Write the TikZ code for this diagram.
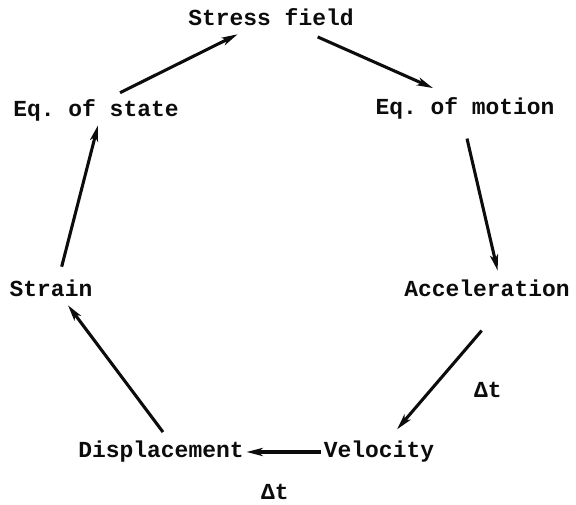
\documentclass[tikz,border=0pt]{standalone}
\usepackage{fontspec}
\setmonofont{Liberation Mono}
\usepackage{tikz}
\usetikzlibrary{arrows.meta}
\definecolor{inkDark}{RGB}{12,12,12}
\tikzset{
  stageNode/.style={
    rectangle, inner xsep=2pt, inner ysep=0pt, minimum height=25.5pt,
    font=\ttfamily\bfseries\fontsize{17.2}{20}\selectfont, text=inkDark
  },
  deltaLabel/.style={
    inner sep=0pt, font=\ttfamily\bfseries\fontsize{17.2}{20}\selectfont, text=inkDark
  },
  cycleArrow/.style={-{Stealth[length=12pt,width=6pt,inset=3pt]},
    line width=2.3pt, color=inkDark}
}

\begin{document}
\begin{tikzpicture}[x=0.75pt, y=-0.75pt]
        \useasboundingbox (0,0) rectangle (576,505);
        \node[stageNode] (stress)   at (271,17)  {Stress field};
        \node[stageNode] (motion)   at (465,108) {Eq. of motion};
        \node[stageNode] (accel)    at (487,288) {Acceleration};
        \node[stageNode] (velocity) at (379,452) {Velocity};
        \node[stageNode] (displ)    at (161,452) {Displacement};
        \node[stageNode] (strain)   at (51,288)  {Strain};
        \node[stageNode] (state)    at (96,110)  {Eq. of state};
        \node[deltaLabel] (dtVel)  at (488,390) {Δt};
        \node[deltaLabel] (dtDisp) at (275,492) {Δt};
        % the cycle
        \draw[cycleArrow] ([xshift=18pt]state.north)
          -- ([xshift=-25pt]stress.south);
        \draw[cycleArrow] ([xshift=35pt,yshift=-2pt]stress.south)
          -- ([xshift=-24pt,yshift=2pt]motion.north);
        \draw[cycleArrow] ([xshift=1.5pt,yshift=-10pt]motion.south)
          -- ([xshift=8pt]accel.north);
        \draw[cycleArrow] ([xshift=-4pt,yshift=-19pt]accel.south)
          -- ([xshift=13.5pt,yshift=4pt]velocity.north);
        \draw[cycleArrow] (velocity.west) -- (displ.east);
        \draw[cycleArrow] ([xshift=1.5pt,yshift=2pt]displ.north)
          -- ([xshift=12.75pt]strain.south);
        \draw[cycleArrow] ([xshift=8pt,yshift=3pt]strain.north)
          -- ([xshift=1.5pt,yshift=1.5pt]state.south);
\end{tikzpicture}
\end{document}
